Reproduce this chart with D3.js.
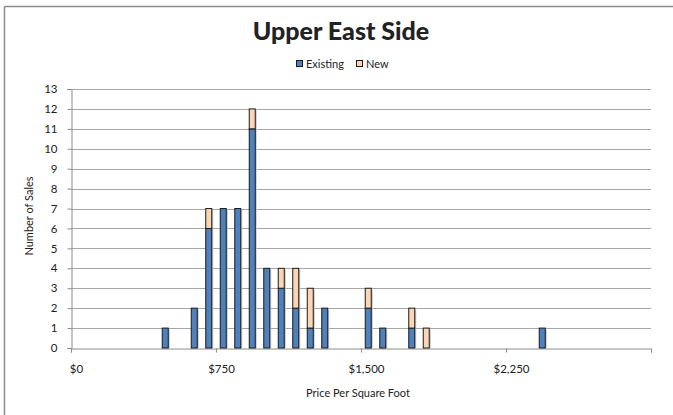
<!DOCTYPE html>
<html>
<head>
<meta charset="utf-8">
<script src="https://cdn.jsdelivr.net/npm/d3@7"></script>
<style>
  html, body { margin: 0; padding: 0; background: #fff; }
  svg { display: block; }
  text { font-family: Lato, "Open Sans", "DejaVu Sans", sans-serif; fill: #222; }
</style>
</head>
<body>
<svg id="chart" width="673" height="415"></svg>
<script>
// Price-per-square-foot bins (bin midpoints, $75 wide) and sales counts
const binCenters = [487.5, 637.5, 712.5, 787.5, 862.5, 937.5, 1012.5, 1087.5, 1162.5, 1237.5, 1312.5, 1537.5, 1612.5, 1762.5, 1837.5, 2437.5];
const existingSales = [1, 2, 6, 7, 7, 11, 4, 3, 2, 1, 2, 2, 1, 1, 0, 1];
const newSales      = [0, 0, 1, 0, 0, 1, 0, 1, 2, 2, 0, 1, 0, 1, 1, 0];
const seriesNames = ["Existing", "New"];
const seriesColors = ["#4f81bd", "#fcd5b5"];
const xTicks = [0, 750, 1500, 2250, 3000];
const yTicks = d3.range(0, 14);

const svg = d3.select("#chart");
const W = 673, H = 415;

// outer frame (top and left edges visible)
svg.append("line").attr("x1", 4.5).attr("x2", W).attr("y1", 6.5).attr("y2", 6.5)
  .attr("stroke", "#8c8c8c").attr("stroke-width", 1.5);
svg.append("line").attr("x1", 4.5).attr("x2", 4.5).attr("y1", 6.5).attr("y2", H)
  .attr("stroke", "#8c8c8c").attr("stroke-width", 1.5);

const plot = { left: 71, right: 651, top: 89, bottom: 348 };
const x = d3.scaleLinear().domain([0, 3000]).range([plot.left, plot.right]);
const y = d3.scaleLinear().domain([0, 13]).range([plot.bottom, plot.top]);

// horizontal gridlines
svg.append("g").selectAll("line").data(yTicks.filter(d => d > 0)).join("line")
  .attr("x1", plot.left).attr("x2", plot.right)
  .attr("y1", d => Math.round(y(d)) + 0.5).attr("y2", d => Math.round(y(d)) + 0.5)
  .attr("stroke", "#a6a6a6").attr("stroke-width", 1);

// y axis
const yAxis = svg.append("g").attr("transform", `translate(${plot.left + 0.5},0)`)
  .call(d3.axisLeft(y).tickValues(yTicks).tickSize(4).tickPadding(10).tickFormat(d3.format("d")));
yAxis.select(".domain").attr("stroke", "#8c8c8c");
yAxis.selectAll(".tick line").attr("stroke", "#8c8c8c");
yAxis.selectAll(".tick text").attr("font-size", 11.5).attr("fill", "#222")
  .attr("font-family", "Lato, 'Open Sans', sans-serif");

// x axis
const xAxis = svg.append("g").attr("transform", `translate(0,${plot.bottom + 0.5})`)
  .call(d3.axisBottom(x).tickValues(xTicks).tickSize(4).tickPadding(12)
    .tickFormat(d => d === 3000 ? "" : "$" + d3.format(",")(d)));
xAxis.select(".domain").attr("stroke", "#8c8c8c");
xAxis.selectAll(".tick line").attr("stroke", "#8c8c8c");
xAxis.selectAll(".tick text").attr("font-size", 11.5).attr("fill", "#222").attr("dx", 5)
  .attr("font-family", "Lato, 'Open Sans', sans-serif");

// stacked bars
const rows = binCenters.map((c, i) => ({ c, Existing: existingSales[i], New: newSales[i] }));
const stacked = d3.stack().keys(seriesNames)(rows);
const barW = 6;

const shadow = svg.append("g");
rows.forEach(r => {
  const total = r.Existing + r.New;
  if (total === 0) return;
  shadow.append("rect")
    .attr("x", x(r.c) - barW / 2 + 1.5).attr("y", y(total) + 1.5)
    .attr("width", barW).attr("height", y(0) - y(total) - 1.5)
    .attr("fill", "#c8c8c8");
});

stacked.forEach((layer, k) => {
  svg.append("g").selectAll("rect").data(layer.filter(d => d[1] > d[0])).join("rect")
    .attr("x", d => x(d.data.c) - barW / 2)
    .attr("y", d => y(d[1]))
    .attr("width", barW)
    .attr("height", d => y(d[0]) - y(d[1]))
    .attr("fill", seriesColors[k])
    .attr("stroke", "#1a1a1a").attr("stroke-width", 1);
});

// title
svg.append("text").attr("x", 341).attr("y", 40).attr("text-anchor", "middle")
  .attr("font-size", 25).attr("font-weight", 900).attr("fill", "#000")
  .attr("font-family", "'Open Sans', Lato, sans-serif")
  .text("Upper East Side");

// legend
const legend = svg.append("g");
const legendItems = [{ name: "Existing", x: 296 }, { name: "New", x: 356 }];
legendItems.forEach((it, i) => {
  legend.append("rect").attr("x", it.x + 0.5).attr("y", 60.5).attr("width", 6).attr("height", 6)
    .attr("fill", seriesColors[i]).attr("stroke", "#1a1a1a").attr("stroke-width", 1);
  legend.append("text").attr("x", it.x + 10).attr("y", 68).attr("font-size", 11)
    .text(it.name);
});

// axis titles
svg.append("text").attr("transform", "translate(33,216) rotate(-90)")
  .attr("text-anchor", "middle").attr("font-size", 11).text("Number of Sales");
svg.append("text").attr("x", 358).attr("y", 397).attr("text-anchor", "middle")
  .attr("font-size", 11).text("Price Per Square Foot");
</script>
</body>
</html>
